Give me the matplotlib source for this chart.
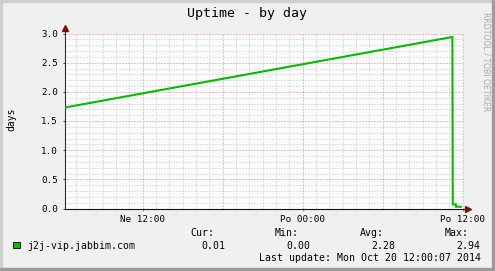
import matplotlib
matplotlib.use("Agg")
import matplotlib.pyplot as plt
from matplotlib.patches import Rectangle
from matplotlib.ticker import FixedLocator

# ---- data (hours relative to Mon 00:00) ----
hours = [-17.87, 11.22, 11.25, 11.48, 11.50, 11.85]
uptime = [1.73, 2.94, 0.07, 0.07, 0.03, 0.03]
xtick_pos = [-12, 0, 12]
xtick_labels = ["Ne 12:00", "Po 00:00", "Po 12:00"]
ytick_pos = [0, 0.5, 1.0, 1.5, 2.0, 2.5, 3.0]
ytick_labels = ["0.0", "0.5", "1.0", "1.5", "2.0", "2.5", "3.0"]
series_name = "j2j-vip.jabbim.com"
stat_names = ["Cur:", "Min:", "Avg:", "Max:"]
stat_values = ["0.01", "0.00", "2.28", "2.94"]
last_update = "Last update: Mon Oct 20 12:00:07 2014"
title = "Uptime - by day"
ylabel = "days"
watermark = "RRDTOOL / TOBI OETIKER"

W, H = 495, 271
fig = plt.figure(figsize=(W / 100, H / 100), dpi=100)
fig.patch.set_facecolor("#f0f0f0")

def fx(px):
    return px / W

def fy(py):
    return 1 - py / H

# frame borders
fig.patches.append(Rectangle((0, 0), fx(2), 1, transform=fig.transFigure, color="#cfcfcf", zorder=0))
fig.patches.append(Rectangle((0, fy(2)), 1, 2 / H, transform=fig.transFigure, color="#cfcfcf", zorder=0))
fig.patches.append(Rectangle((fx(492), 0), fx(3), 1, transform=fig.transFigure, color="#9c9c9c", zorder=0))
fig.patches.append(Rectangle((0, 0), 1, 3 / H, transform=fig.transFigure, color="#9c9c9c", zorder=0))

left, right, top, bottom = 64.5, 464.5, 33.5, 208.5
ax = fig.add_axes([fx(left), fy(bottom), fx(right - left), (bottom - top) / H])
ax.set_facecolor("white")
xmin = -17.87
ax.set_xlim(xmin, xmin + 30.0)
ax.set_ylim(0, 3.0)

# grid (1px dotted)
gkw = dict(lw=0.72, ls=(0, (1, 2)))
for i in range(1, 31):
    if i % 5 == 0:
        continue
    ax.axhline(i * 0.1, color="#c0c0c0", zorder=1, **gkw)
for h in range(-17, 13):
    if h % 6 == 0:
        continue
    ax.axvline(h, color="#c0c0c0", zorder=1, **gkw)
for y in [0.5, 1.0, 1.5, 2.0, 2.5, 3.0]:
    ax.axhline(y, color="#f07878", zorder=2, **gkw)
for h in [-12, -6, 0, 6, 12]:
    ax.axvline(h, color="#f07878", zorder=2, **gkw)

ax.plot(hours, uptime, color="#00bb00", lw=1.5, zorder=4, solid_joinstyle="miter")

for s in ["top", "right"]:
    ax.spines[s].set_visible(False)
ax.spines["left"].set_color("#303030")
ax.spines["bottom"].set_color("#101010")
ax.spines["left"].set_linewidth(0.8)
ax.spines["bottom"].set_linewidth(0.8)

# axis arrows
ax.plot([xmin, xmin], [3.0, 3.07], color="#303030", lw=0.8, clip_on=False, zorder=5)
ax.plot([xmin], [3.09], marker="^", color="#7f1010", ms=4.2, clip_on=False, zorder=6)
ax.plot([12.13, 12.25], [0, 0], color="#101010", lw=0.8, clip_on=False, zorder=5)
ax.plot([12.4], [0], marker=">", color="#7f1010", ms=4.2, clip_on=False, zorder=6)

ax.xaxis.set_major_locator(FixedLocator(xtick_pos))
ax.set_xticklabels(xtick_labels, family="DejaVu Sans Mono", fontsize=6.7)
ax.set_yticks(ytick_pos)
ax.set_yticklabels(ytick_labels, family="DejaVu Sans Mono", fontsize=6.7)
ax.tick_params(axis="y", length=1.5, width=0.7, pad=3, color="#303030")
ax.tick_params(axis="x", length=1.5, width=0.7, pad=3.5, color="#f07878")

# texts
fig.text(fx(246.7), fy(14), title, family="DejaVu Sans Mono", fontsize=9.5,
         ha="center", va="center", color="#000000")
fig.text(fx(11.5), fy(119), ylabel, family="DejaVu Sans Mono", fontsize=7.0,
         rotation=90, ha="center", va="center")
fig.text(fx(485.7), fy(61.5), watermark, family="DejaVu Sans", fontsize=5.6,
         rotation=270, ha="center", va="center", color="#a8a8a8")

fig.patches.append(Rectangle((fx(13.3), fy(248.3)), fx(6.7), 6.7 / H, transform=fig.transFigure,
                             facecolor="#00bb00", edgecolor="#000000", lw=0.6, zorder=3))
mono = dict(family="DejaVu Sans Mono", fontsize=7.1, va="center")
fig.text(fx(26.7), fy(245.7), series_name, ha="left", **mono)
label_x = [190, 275, 360, 445]
value_right = [225, 310, 395, 480]
for lx, name in zip(label_x, stat_names):
    fig.text(fx(lx), fy(233.3), name, ha="left", **mono)
for rx, val in zip(value_right, stat_values):
    fig.text(fx(rx), fy(245.7), val, ha="right", **mono)
fig.text(fx(481), fy(257.7), last_update, ha="right", **mono)

fig.savefig("out.png", dpi=100, facecolor=fig.get_facecolor())
